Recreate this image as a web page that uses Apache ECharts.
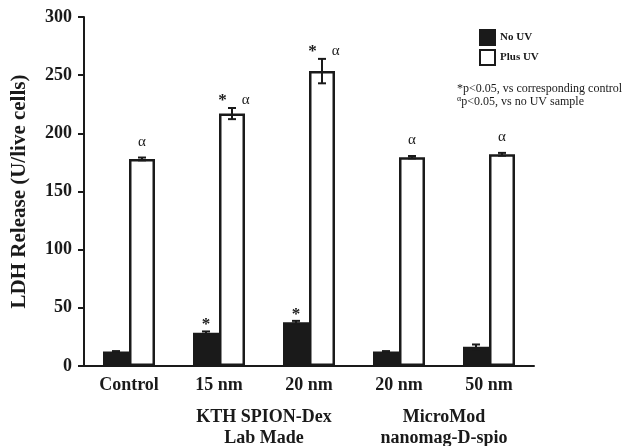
<!DOCTYPE html>
<html><head><meta charset="utf-8">
<script src="https://cdn.jsdelivr.net/npm/echarts@6/dist/echarts.min.js"></script>
<style>html,body{margin:0;padding:0;background:#fff}#c{width:625px;height:446px}</style>
</head><body><div id="c"></div>
<script>
const categories = ['Control', '15 nm', '20 nm', '20 nm', '50 nm'];
const noUV = [12.5, 28.5, 37.6, 12.5, 16.5];
const noUVErr = [0.3, 1.2, 1.2, 0.3, 2.0];
const plusUV = [178, 217, 253.5, 179.5, 182];
const plusUVErr = [1.2, 4.8, 10.5, 1.0, 1.2];
// significance marks: s = star (vs control), a = alpha (vs no UV)
const noUVMarks = ['', 's', 's', '', ''];
const plusUVMarks = ['a', 'sa', 'sa', 'a', 'a'];
const groups = [
  { text: 'KTH SPION-Dex\nLab Made', from: 1, to: 2 },
  { text: 'MicroMod\nnanomag-D-spio', from: 3, to: 4 }
];
const yMin = 0, yMax = 300, yStep = 50;
const legendNames = ['No UV', 'Plus UV'];
const noteLines = ['*p<0.05, vs corresponding control', 'p<0.05, vs no UV sample'];

const FONT = '"Liberation Serif", "Times New Roman", serif';
const BAR_W = 26;

function markText(code) {
  const parts = [];
  if (code.includes('s')) parts.push('{s|*}');
  if (code.includes('a')) parts.push('{a|α}');
  return parts.join('{g|    }');
}

function errRenderer(offset, marks) {
  return function (params, api) {
    const i = api.value(0), v = api.value(1), e = api.value(2);
    const top = api.coord([i, v + e]);
    const bot = api.coord([i, v - e]);
    const x = top[0] + offset;
    const cap = 4;
    const children = [];
    if (e > 0) {
      children.push(
        { type: 'line', shape: { x1: x, y1: top[1], x2: x, y2: bot[1] }, style: { stroke: '#1a1a1a', lineWidth: 2 } },
        { type: 'line', shape: { x1: x - cap, y1: top[1], x2: x + cap, y2: top[1] }, style: { stroke: '#1a1a1a', lineWidth: 2 } },
        { type: 'line', shape: { x1: x - cap, y1: bot[1], x2: x + cap, y2: bot[1] }, style: { stroke: '#1a1a1a', lineWidth: 2 } }
      );
    }
    const m = marks[params.dataIndex];
    if (m) {
      let dy = -8, dx = 0;
      if (m === 'sa') { dy = 1; dx = 2; }
      else if (m === 's') { dy = 2; }
      children.push({
        type: 'text',
        style: {
          text: markText(m), x: x + dx, y: top[1] + dy,
          align: 'center', verticalAlign: 'bottom',
          fill: '#1a1a1a',
          rich: {
            s: { fontFamily: FONT, fontSize: 17, fontWeight: 'bold', fill: '#1a1a1a' },
            a: { fontFamily: FONT, fontSize: 15, fill: '#1a1a1a' },
            g: { fontFamily: FONT, fontSize: 15 }
          }
        }
      });
    }
    return { type: 'group', children };
  };
}

const chart = echarts.init(document.getElementById('c'));
chart.setOption({
  animation: false,
  backgroundColor: '#fff',
  grid: { left: 84, right: 91, top: 17, bottom: 80, containLabel: false },
  legend: {
    orient: 'vertical', left: 474, top: 24, itemWidth: 15, itemHeight: 15, itemGap: 3,
    icon: 'rect',
    data: legendNames,
    textStyle: { fontFamily: FONT, fontSize: 11, fontWeight: 'bold', color: '#1a1a1a' }
  },
  xAxis: {
    type: 'category', data: categories,
    axisLine: { lineStyle: { color: '#1a1a1a', width: 2 } },
    axisTick: { show: false },
    axisLabel: { fontFamily: FONT, fontSize: 18, fontWeight: 'bold', color: '#1a1a1a', margin: 10, interval: 0 }
  },
  yAxis: {
    type: 'value', min: yMin, max: yMax, interval: yStep,
    name: 'LDH Release (U/live cells)', nameLocation: 'middle', nameGap: 54,
    nameTextStyle: { fontFamily: FONT, fontSize: 21, fontWeight: 'bold', color: '#1a1a1a' },
    axisLine: { show: true, lineStyle: { color: '#1a1a1a', width: 2 } },
    axisTick: { show: true, length: 6, lineStyle: { color: '#1a1a1a', width: 2 } },
    splitLine: { show: false },
    axisLabel: { fontFamily: FONT, fontSize: 18, fontWeight: 'bold', color: '#1a1a1a', margin: 12 }
  },
  series: [
    {
      name: legendNames[0], type: 'bar', data: noUV, barWidth: BAR_W, barGap: '0%',
      itemStyle: { color: '#1a1a1a', borderColor: '#1a1a1a', borderWidth: 2 }
    },
    {
      name: legendNames[1], type: 'bar', data: plusUV, barWidth: BAR_W, barGap: '0%',
      itemStyle: { color: '#ffffff', borderColor: '#1a1a1a', borderWidth: 2.5 }
    },
    {
      type: 'custom', coordinateSystem: 'cartesian2d', z: 10, silent: true,
      data: noUV.map((v, i) => [i, v, noUVErr[i]]),
      encode: { x: 0, y: 1 },
      renderItem: errRenderer(-BAR_W / 2, noUVMarks)
    },
    {
      type: 'custom', coordinateSystem: 'cartesian2d', z: 10, silent: true,
      data: plusUV.map((v, i) => [i, v, plusUVErr[i]]),
      encode: { x: 0, y: 1 },
      renderItem: errRenderer(BAR_W / 2, plusUVMarks)
    }
  ]
});

const baseY = chart.convertToPixel({ yAxisIndex: 0 }, 0);
const graphics = groups.map(g => {
  const x1 = chart.convertToPixel({ xAxisIndex: 0 }, g.from);
  const x2 = chart.convertToPixel({ xAxisIndex: 0 }, g.to);
  return {
    type: 'text', x: (x1 + x2) / 2, y: baseY + 41,
    style: {
      text: g.text, align: 'center', verticalAlign: 'top',
      fontFamily: FONT, fontSize: 18, fontWeight: 'bold', fill: '#1a1a1a', lineHeight: 21
    }
  };
});
graphics.push({
  type: 'text', left: 457, top: 82,
  style: {
    text: noteLines[0] + '\n{sup|α}' + noteLines[1],
    fontFamily: FONT, fontSize: 12, fill: '#1a1a1a', lineHeight: 13,
    rich: { sup: { fontFamily: FONT, fontSize: 8, verticalAlign: 'top', lineHeight: 13 } }
  }
});
chart.setOption({ graphic: graphics });
</script>
</body></html>
